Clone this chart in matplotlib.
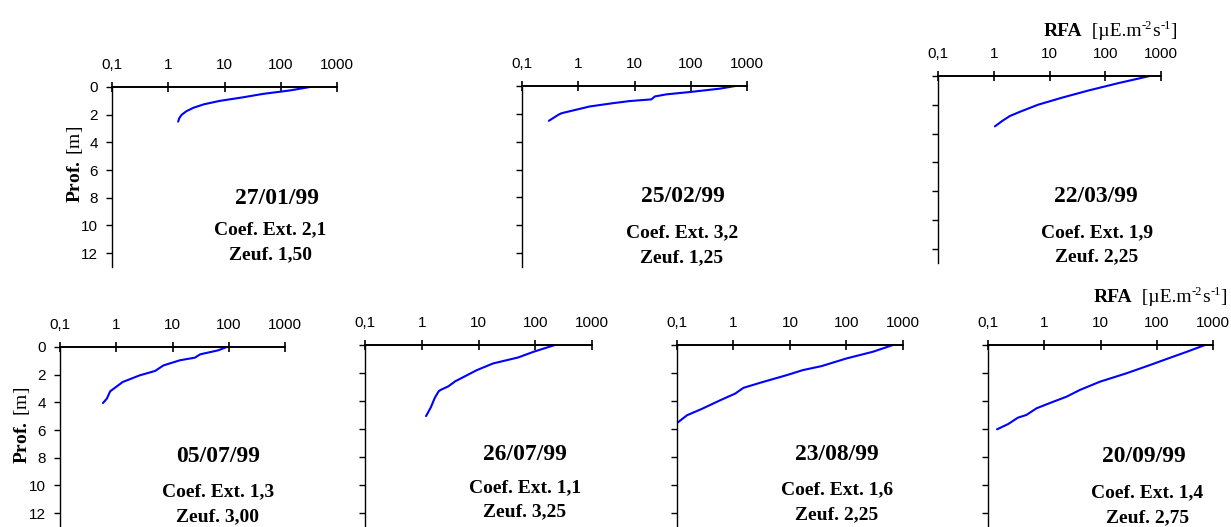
import matplotlib
matplotlib.use('Agg')
import matplotlib.pyplot as plt
from matplotlib.ticker import FixedLocator, NullLocator, FixedFormatter

plt.rcParams['mathtext.fontset'] = 'custom'
plt.rcParams['mathtext.rm'] = 'Liberation Serif'
plt.rcParams['mathtext.bf'] = 'Liberation Serif:bold'
plt.rcParams['mathtext.it'] = 'Liberation Serif:italic'

# ---------------- data ----------------
dates = ['27/01/99', '25/02/99', '22/03/99', '05/07/99', '26/07/99', '23/08/99', '20/09/99']
coefs = ['2,1', '3,2', '1,9', '1,3', '1,1', '1,6', '1,4']
zeufs = ['1,50', '1,25', '2,25', '3,00', '3,25', '2,25', '2,75']

x_ticks = [0.1, 1, 10, 100, 1000]
x_tick_labels = ['0,1', '1', '10', '100', '1000']
y_ticks = [0, 2, 4, 6, 8, 10, 12]
y_tick_labels = ['0', '2', '4', '6', '8', '10', '12']

depth_270199 = [0, 0.25, 0.5, 0.75, 1.0, 1.25, 1.5, 1.75, 2.0, 2.25, 2.5]
rfa_270199 = [330, 145, 48, 21, 8.3, 4.3, 2.8, 2.1, 1.74, 1.57, 1.5]

depth_250299 = [0, 0.19, 0.43, 0.6, 0.75, 0.96, 1.08, 1.23, 1.47, 1.95, 2.05, 2.5]
rfa_250299 = [620, 330, 98, 37, 23, 20, 8.3, 4.2, 1.6, 0.51, 0.45, 0.30]

depth_220399 = [0, 0.5, 1.0, 1.5, 2.0, 2.5, 2.78, 3.1, 3.5]
rfa_220399 = [630, 170, 51, 17, 6.2, 2.9, 1.95, 1.45, 1.05]

depth_050799 = [0, 0.24, 0.53, 0.77, 0.96, 1.33, 1.73, 2.05, 2.53, 3.2, 3.73, 4.05]
rfa_050799 = [92, 65, 31, 25, 13.5, 6.9, 4.9, 2.6, 1.3, 0.78, 0.68, 0.58]

depth_260799 = [0, 0.48, 0.89, 1.32, 1.8, 2.59, 2.95, 3.19, 3.29, 3.77, 4.44, 5.08]
rfa_260799 = [222, 94, 50, 18, 9.3, 3.9, 2.95, 2.2, 2.0, 1.7, 1.45, 1.19]

depth_230899 = [0, 0.48, 0.96, 1.39, 1.51, 1.79, 2.15, 2.70, 3.06, 3.47, 3.95, 4.55, 5.02, 5.55]
rfa_230899 = [665, 295, 100, 45, 36, 17, 8.8, 2.95, 1.5, 1.07, 0.58, 0.28, 0.15, 0.102]

depth_200999 = [0, 0.48, 1.0, 1.43, 2.02, 2.62, 3.21, 3.69, 4.05, 4.52, 5.0, 5.19, 5.64, 6.02]
rfa_200999 = [720, 345, 150, 76, 29, 9.8, 4.3, 2.5, 1.45, 0.73, 0.48, 0.34, 0.23, 0.145]

depths = [depth_270199, depth_250299, depth_220399, depth_050799,
          depth_260799, depth_230899, depth_200999]
rfas = [rfa_270199, rfa_250299, rfa_220399, rfa_050799,
        rfa_260799, rfa_230899, rfa_200999]

# ---------------- layout ----------------
W, H = 1231, 527
fig = plt.figure(figsize=(W / 100, H / 100), dpi=100)

# pixel boxes: left, top, right, bottom
boxes = [(112, 87, 337, 267), (522, 86, 747, 267), (938, 76, 1161, 263),
         (60, 347, 285, 527), (365, 345, 592, 527), (677, 345, 903, 527),
         (988, 345, 1213, 527)]
# text anchors in axes fraction: (date x, date y, coef x, coef y, zeuf y)
text_pos = [(0.733, 0.38, 0.704, 0.206, 0.067),
            (0.716, 0.387, 0.711, 0.188, 0.05),
            (0.708, 0.353, 0.713, 0.16, 0.032),
            (0.702, 0.389, 0.702, 0.194, 0.056),
            (0.705, 0.396, 0.705, 0.214, 0.082),
            (0.708, 0.396, 0.708, 0.203, 0.066),
            (0.693, 0.385, 0.707, 0.187, 0.05)]
show_ylabels = [True, False, False, True, False, False, False]

serif = 'Liberation Serif'
sans = 'Liberation Sans'

for i, (l, t, r, b) in enumerate(boxes):
    ax = fig.add_axes([l / W, 1 - b / H, (r - l) / W, (b - t) / H])
    ax.plot(rfas[i], depths[i], color='#0000FF', lw=1.5, solid_capstyle='round')
    ax.set_xscale('log')
    ax.set_xlim(0.1, 1000)
    ax.set_ylim(13, 0)
    ax.spines['right'].set_visible(False)
    ax.spines['bottom'].set_visible(False)
    ax.spines['top'].set_linewidth(1.4)
    ax.spines['left'].set_linewidth(1.0)
    ax.xaxis.set_ticks_position('top')
    ax.xaxis.set_major_locator(FixedLocator(x_ticks))
    ax.xaxis.set_major_formatter(FixedFormatter(x_tick_labels))
    ax.xaxis.set_minor_locator(NullLocator())
    ax.yaxis.set_major_locator(FixedLocator(y_ticks))
    ax.yaxis.set_minor_locator(NullLocator())
    ax.tick_params(axis='x', which='major', direction='inout', length=7, width=1.2,
                   pad=7, labelsize=11)
    ax.tick_params(axis='y', which='major', direction='out', length=4, width=1.0,
                   pad=6, labelsize=11)
    if show_ylabels[i]:
        ax.set_yticklabels(y_tick_labels)
    else:
        ax.set_yticklabels([])
    for lab in ax.get_xticklabels() + ax.get_yticklabels():
        lab.set_fontfamily(sans)
    ax.patch.set_alpha(0)

    dx, dy, cx, cy, zy = text_pos[i]
    ax.text(dx, dy, dates[i], transform=ax.transAxes, ha='center', va='center',
            fontfamily=serif, fontweight='bold', fontsize=17)
    ax.text(cx, cy, 'Coef. Ext. ' + coefs[i], transform=ax.transAxes, ha='center',
            va='center', fontfamily=serif, fontweight='bold', fontsize=14)
    ax.text(cx, zy, 'Zeuf. ' + zeufs[i], transform=ax.transAxes, ha='center',
            va='center', fontfamily=serif, fontweight='bold', fontsize=14)

# y axis labels
ylab = r'$\mathbf{Prof.}\;[\mathrm{m}]$'
fig.text(75 / W, 1 - 164 / H, ylab, rotation=90, ha='center', va='center', fontsize=14)
fig.text(22 / W, 1 - 425 / H, ylab, rotation=90, ha='center', va='center', fontsize=14)

# RFA unit labels, composed piece by piece
renderer = fig.canvas.get_renderer()


def compose(x_right, y_base, pieces):
    items = []
    for s, weight, size, rise in pieces:
        txt = fig.text(0, 0, s, fontfamily=serif, fontweight=weight, fontsize=size,
                       ha='left', va='baseline')
        w = txt.get_window_extent(renderer).width
        items.append((txt, w, rise))
    total = sum(w for _, w, _ in items)
    x = x_right - total
    for txt, w, rise in items:
        txt.set_position((x / W, 1 - (y_base - rise) / H))
        x += w


rfa_pieces = [('RFA', 'bold', 14, 0), ('  [\u00b5E.m', 'normal', 14, 0),
              ('-2', 'normal', 9, 7), ('s', 'normal', 14, 0),
              ('-1', 'normal', 9, 7), (']', 'normal', 14, 0)]
compose(1177, 36, rfa_pieces)
compose(1227, 302, rfa_pieces)

fig.savefig('out.png', dpi=100, facecolor='white')
